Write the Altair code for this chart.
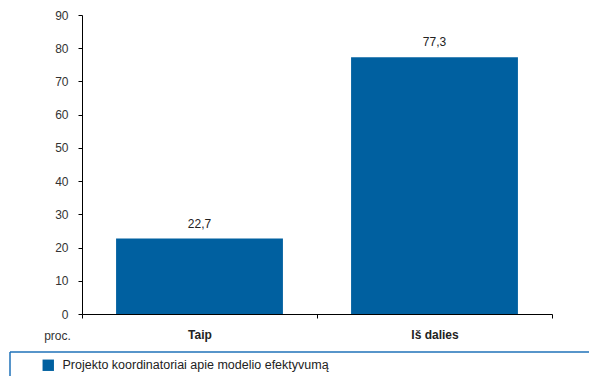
import altair as alt
import pandas as pd

categories = ["Taip", "Iš dalies"]
values = [22.7, 77.3]
value_labels = ["22,7", "77,3"]
series_name = "Projekto koordinatoriai apie modelio efektyvumą"

df = pd.DataFrame({
    "cat": categories,
    "val": values,
    "lab": value_labels,
    "series": [series_name] * len(categories),
})

FONT = "Liberation Sans"
BLUE = "#0060A0"

x_enc = alt.X(
    "cat:N",
    sort=categories,
    scale=alt.Scale(paddingInner=0, paddingOuter=0),
    axis=alt.Axis(
        title=None,
        labelAngle=0,
        labelFont=FONT,
        labelFontSize=12,
        labelFontWeight="bold",
        labelColor="#222222",
        labelPadding=11,
        tickSize=4,
        tickColor="#000000",
        domainColor="#000000",
        tickBand="extent",
        grid=False,
    ),
)
y_enc = alt.Y(
    "val:Q",
    scale=alt.Scale(domain=[0, 90], nice=False),
    axis=alt.Axis(
        values=list(range(0, 91, 10)),
        title="proc.",
        titleAngle=0,
        titleX=-25,
        titleY=320,
        titleAlign="center",
        titleBaseline="middle",
        titleFont=FONT,
        titleFontSize=12,
        titleFontWeight="normal",
        titleColor="#333333",
        labelFont=FONT,
        labelFontSize=12,
        labelColor="#333333",
        labelPadding=10,
        labelOverlap=False,
        tickSize=4,
        tickColor="#000000",
        domainColor="#000000",
        grid=False,
    ),
)

base = alt.Chart(df).encode(x=x_enc, y=y_enc)

bars = base.mark_bar(width=alt.RelativeBandSize(0.71)).encode(
    fill=alt.Fill(
        "series:N",
        scale=alt.Scale(range=[BLUE]),
        legend=alt.Legend(
            title=None,
            orient="none",
            legendX=-40,
            legendY=344,
            symbolType="square",
            symbolSize=130,
            symbolStrokeWidth=0,
            labelFont=FONT,
            labelFontSize=12.5,
            labelColor="#222222",
            labelOffset=8,
            labelLimit=500,
        ),
    ),
)

texts = base.mark_text(
    dy=-15, font=FONT, fontSize=12, color="#222222", baseline="middle"
).encode(text="lab:N")

legend_top = alt.Chart(df.head(1)).mark_rule(color="#1F72B8", strokeWidth=1.5).encode(
    x=alt.value(-72), x2=alt.value(520), y=alt.value(337)
)
legend_left = alt.Chart(df.head(1)).mark_rule(color="#1F72B8", strokeWidth=1.5).encode(
    x=alt.value(-72), y=alt.value(337), y2=alt.value(380)
)

chart = alt.layer(bars, texts, legend_top, legend_left).properties(
    width=470,
    height=299,
    autosize=alt.AutoSizeParams(type="none"),
    padding={"left": 82, "top": 15, "right": 37, "bottom": 62},
).configure(
    background="white",
    view=alt.ViewConfig(stroke=None, strokeWidth=0),
)

chart.save("out.html", embed_options={"renderer": "svg", "actions": False})
